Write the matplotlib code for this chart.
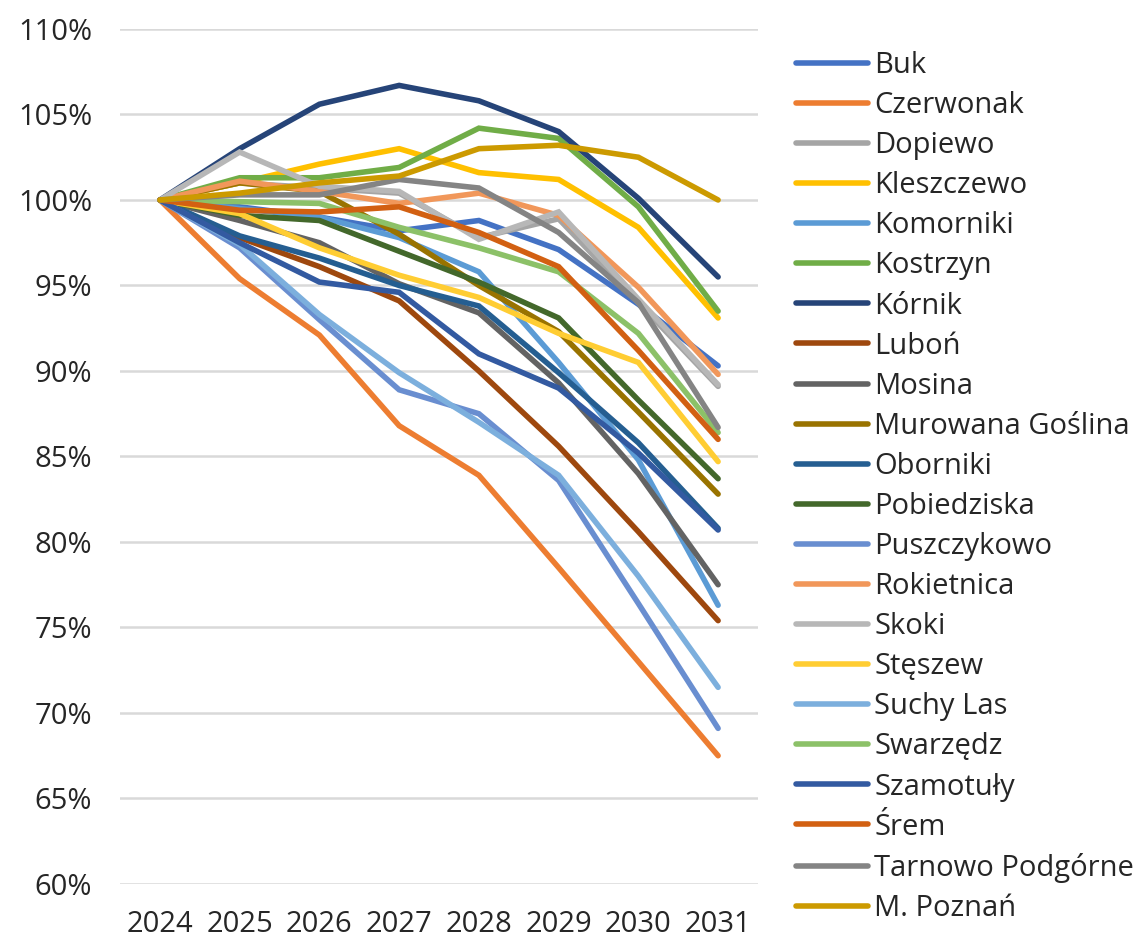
import matplotlib.pyplot as plt
from matplotlib.ticker import FuncFormatter

# lata i gminy
years = ["2024", "2025", "2026", "2027", "2028", "2029", "2030", "2031"]

buk = [100, 99.6, 99.0, 98.2, 98.8, 97.1, 93.9, 90.3]
czerwonak = [100, 95.4, 92.1, 86.8, 83.9, 78.5, 73.0, 67.5]
dopiewo = [100, 101.0, 100.7, 100.4, 97.8, 98.9, 94.0, 89.1]
kleszczewo = [100, 101.0, 102.1, 103.0, 101.6, 101.2, 98.4, 93.1]
komorniki = [100, 99.5, 99.0, 97.8, 95.8, 90.5, 84.8, 76.3]
kostrzyn = [100, 101.3, 101.3, 101.9, 104.2, 103.6, 99.6, 93.5]
kornik = [100, 103.0, 105.6, 106.7, 105.8, 104.0, 100.1, 95.5]
lubon = [100, 97.8, 96.1, 94.1, 90.0, 85.6, 80.6, 75.4]
mosina = [100, 98.8, 97.5, 95.1, 93.4, 89.3, 84.0, 77.5]
murowana = [100, 101.0, 100.5, 98.0, 95.0, 92.3, 87.6, 82.8]
oborniki = [100, 97.9, 96.6, 95.0, 93.8, 89.9, 85.8, 80.8]
pobiedziska = [100, 99.1, 98.8, 97.0, 95.2, 93.1, 88.3, 83.7]
puszczykowo = [100, 97.2, 93.0, 88.9, 87.5, 83.6, 76.4, 69.1]
rokietnica = [100, 101.1, 100.5, 99.8, 100.4, 99.1, 94.9, 89.8]
skoki = [100, 102.8, 100.8, 100.5, 97.7, 99.3, 94.2, 89.2]
steszew = [100, 99.2, 97.2, 95.6, 94.3, 92.2, 90.5, 84.7]
suchy_las = [100, 97.4, 93.3, 89.9, 87.0, 83.9, 78.0, 71.5]
swarzedz = [100, 99.9, 99.8, 98.4, 97.2, 95.8, 92.2, 86.4]
szamotuly = [100, 97.5, 95.2, 94.6, 91.0, 89.0, 85.2, 80.7]
srem = [100, 99.4, 99.3, 99.6, 98.1, 96.1, 91.2, 86.0]
tarnowo = [100, 100.3, 100.3, 101.2, 100.7, 98.1, 94.0, 86.7]
poznan = [100, 100.4, 101.0, 101.4, 103.0, 103.2, 102.5, 100.0]

labels = ["Buk", "Czerwonak", "Dopiewo", "Kleszczewo", "Komorniki", "Kostrzyn",
          "Kórnik", "Luboń", "Mosina", "Murowana Goślina", "Oborniki",
          "Pobiedziska", "Puszczykowo", "Rokietnica", "Skoki", "Stęszew",
          "Suchy Las", "Swarzędz", "Szamotuły", "Śrem", "Tarnowo Podgórne",
          "M. Poznań"]
series = [buk, czerwonak, dopiewo, kleszczewo, komorniki, kostrzyn, kornik,
          lubon, mosina, murowana, oborniki, pobiedziska, puszczykowo,
          rokietnica, skoki, steszew, suchy_las, swarzedz, szamotuly, srem,
          tarnowo, poznan]

# paleta jak w Excelu
colors = ["#4472C4", "#ED7D31", "#A5A5A5", "#FFC000", "#5B9BD5", "#70AD47",
          "#264478", "#9E480E", "#636363", "#997300", "#255E91", "#43682B",
          "#698ED0", "#F1975A", "#B7B7B7", "#FFCD33", "#7CAFDD", "#8CC168",
          "#335AA1", "#D26012", "#848484", "#CC9A00"]

plt.rcParams["font.family"] = ["Open Sans", "DejaVu Sans"]

fig = plt.figure(figsize=(11.4, 9.38), dpi=100)
ax = fig.add_axes([0.1053, 0.0576, 0.5596, 0.9115])

x = list(range(len(years)))
for vals, lab, col in zip(series, labels, colors):
    ax.plot(x, [v / 100 for v in vals], color=col, lw=4.0, label=lab,
            solid_capstyle="round", solid_joinstyle="miter")

ax.set_xlim(-0.5, len(years) - 0.5)
ax.set_ylim(0.60, 1.10)
ax.set_yticks([0.60 + 0.05 * i for i in range(11)])
ax.yaxis.set_major_formatter(FuncFormatter(lambda v, p: f"{v * 100:.0f}%"))
ax.set_xticks(x)
ax.set_xticklabels(years)
ax.grid(axis="y", color="#D9D9D9", lw=1.8)
ax.set_axisbelow(True)
for s in ax.spines.values():
    s.set_visible(False)
ax.tick_params(axis="both", length=0, labelsize=21, colors="#262626")
ax.tick_params(axis="y", pad=20)
ax.tick_params(axis="x", pad=19)

fig.legend(loc="upper left", bbox_to_anchor=(0.6876, 0.958), frameon=False,
           fontsize=21, handlelength=2.5, handletextpad=0.2,
           labelspacing=0.38, borderaxespad=0, labelcolor="#262626")

fig.savefig("out.png", dpi=100)
